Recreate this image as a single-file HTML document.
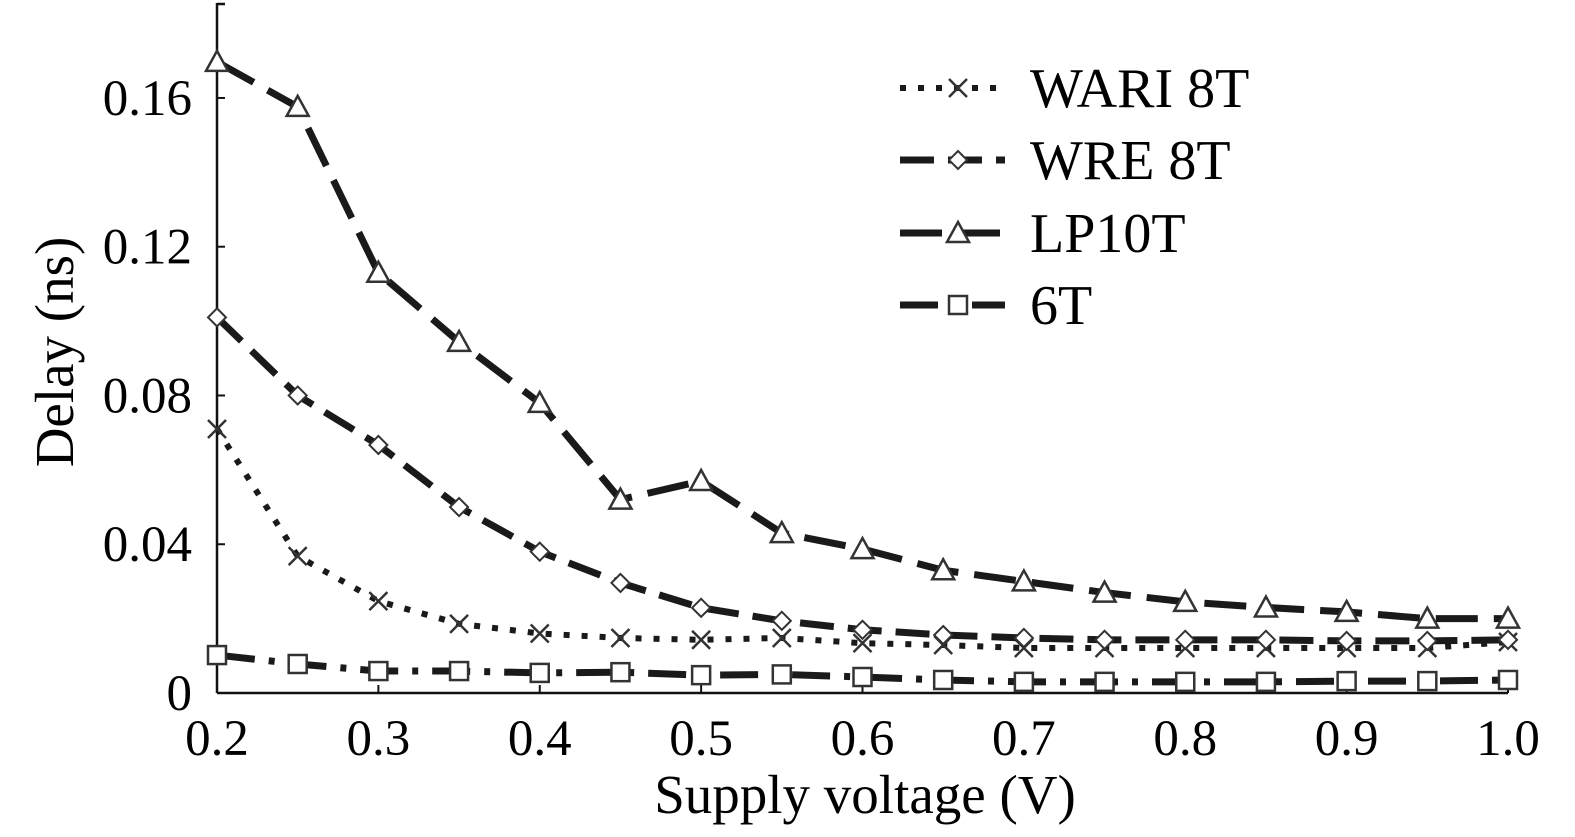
<!DOCTYPE html>
<html><head><meta charset="utf-8">
<style>
html,body{margin:0;padding:0;background:#fff;}
svg{display:block;font-family:"Liberation Serif",serif;}
</style></head>
<body>
<svg id="chart" width="1575" height="837" viewBox="0 0 1575 837">
<g id="axes"></g>
<g id="series"></g>
<g id="legend"></g>
<text x="0" y="0" font-size="55" text-anchor="middle" transform="translate(73 352) rotate(-90)">Delay (ns)</text>
<text x="865" y="813" font-size="55" text-anchor="middle">Supply voltage (V)</text>
</svg>
<script>
const voltages = [0.2,0.25,0.3,0.35,0.4,0.45,0.5,0.55,0.6,0.65,0.7,0.75,0.8,0.85,0.9,0.95,1.0];
const wari8t = [0.071,0.0368,0.0247,0.0186,0.016,0.0148,0.0143,0.0148,0.0134,0.0129,0.0121,0.0121,0.0121,0.0121,0.0121,0.0121,0.0137];
const wre8t = [0.101,0.080,0.0667,0.050,0.038,0.0296,0.0229,0.0194,0.017,0.0156,0.0148,0.0143,0.0143,0.0143,0.014,0.014,0.0143];
const lp10t = [0.1697,0.1576,0.113,0.0944,0.078,0.052,0.057,0.043,0.0387,0.033,0.030,0.027,0.0245,0.023,0.0218,0.020,0.020];
const t6 = [0.0102,0.0078,0.0059,0.0059,0.0054,0.0056,0.0048,0.005,0.0043,0.0035,0.003,0.003,0.003,0.003,0.0032,0.0032,0.0035];
const xTicks = ["0.2","0.3","0.4","0.5","0.6","0.7","0.8","0.9","1.0"];
const yTicks = ["0","0.04","0.08","0.12","0.16"];

const NS="http://www.w3.org/2000/svg";
const X0=217,X1=1508,Y0=693;
function xs(v){return X0+(v-0.2)/0.8*(X1-X0);}
function ys(v){return Y0-v*3719;}
function mk(tag,attrs,parent){const e=document.createElementNS(NS,tag);for(const k in attrs)e.setAttribute(k,attrs[k]);parent.appendChild(e);return e;}
const axes=document.getElementById('axes');
let e=mk('line',{x1:X0,y1:Y0,x2:X1,y2:Y0,stroke:'#111','stroke-width':2.5},axes);


e=mk('line',{x1:X0,y1:Y0,x2:X0,y2:3,stroke:'#111','stroke-width':2.5},axes);


mk('line',{x1:X0,y1:4,x2:X0+8,y2:4,stroke:'#111','stroke-width':2.5},axes);
xTicks.forEach(t=>{const x=xs(parseFloat(t));
 mk('line',{x1:x,y1:Y0,x2:x,y2:Y0-8,stroke:'#111','stroke-width':2},axes);
 const tx=mk('text',{x:x,y:Y0+62,'font-size':51,'text-anchor':'middle'},axes);tx.textContent=t;
 
 
});
yTicks.forEach(t=>{const y=ys(parseFloat(t));
 mk('line',{x1:X0,y1:y,x2:X0+8,y2:y,stroke:'#111','stroke-width':2},axes);
 const tx=mk('text',{x:X0-25,y:y+17,'font-size':51,'text-anchor':'end'},axes);tx.textContent=t;
 
 
});
const styles={
 wari:{dash:'6 12',cap:'butt',w:6},
 wre:{dash:'34 14',cap:'butt',w:7},
 lp:{dash:'42 16',cap:'butt',w:7},
 t6:{dash:'38 14 6 14',cap:'butt',w:7}
};
function marker(g,type,x,y){
 let m;
 if(type==='x'){m=mk('path',{d:`M${x-9} ${y-9}L${x+9} ${y+9}M${x-9} ${y+9}L${x+9} ${y-9}`,stroke:'#333','stroke-width':2.5,fill:'none'},g);}
 else if(type==='d'){m=mk('path',{d:`M${x} ${y-9}L${x+9} ${y}L${x} ${y+9}L${x-9} ${y}Z`,fill:'#fff',stroke:'#333','stroke-width':2},g);}
 else if(type==='t'){m=mk('path',{d:`M${x} ${y-11}L${x+11} ${y+9}L${x-11} ${y+9}Z`,fill:'#fff',stroke:'#333','stroke-width':2.5},g);}
 else {m=mk('rect',{x:x-9,y:y-9,width:18,height:18,fill:'#fff',stroke:'#333','stroke-width':2.5},g);}
 return m;
}
const ser=document.getElementById('series');
[[wari8t,'wari','x','series-wari-8t'],[wre8t,'wre','d','series-wre-8t'],[lp10t,'lp','t','series-lp10t'],[t6,'t6','s','series-6t']].forEach(([vals,st,mt,name])=>{
 const g=mk('g',{},ser);
 
 
 const pts=vals.map((v,i)=>xs(voltages[i])+','+ys(v)).join(' ');
 const s=styles[st];
 mk('polyline',{points:pts,fill:'none',stroke:'#1a1a1a','stroke-width':s.w,'stroke-dasharray':s.dash,'stroke-linecap':s.cap},g);
 vals.forEach((v,i)=>{const m=marker(g,mt,xs(voltages[i]),ys(v));
  
  });
});
const leg=document.getElementById('legend');
const labels=['WARI 8T','WRE 8T','LP10T','6T'],keys=['wari','wre','lp','t6'],mks=['x','d','t','s'],ly=[88,160,233,305];
labels.forEach((l,i)=>{
 const g=mk('g',{},leg);
 
 
 const s=styles[keys[i]];
 mk('line',{x1:900,y1:ly[i],x2:1005,y2:ly[i],stroke:'#1a1a1a','stroke-width':s.w,'stroke-dasharray':s.dash},g);
 marker(g,mks[i],958,ly[i]);
 const t=mk('text',{x:1030,y:ly[i]+19,'font-size':56},g);t.textContent=l;
});
</script>
</body></html>
